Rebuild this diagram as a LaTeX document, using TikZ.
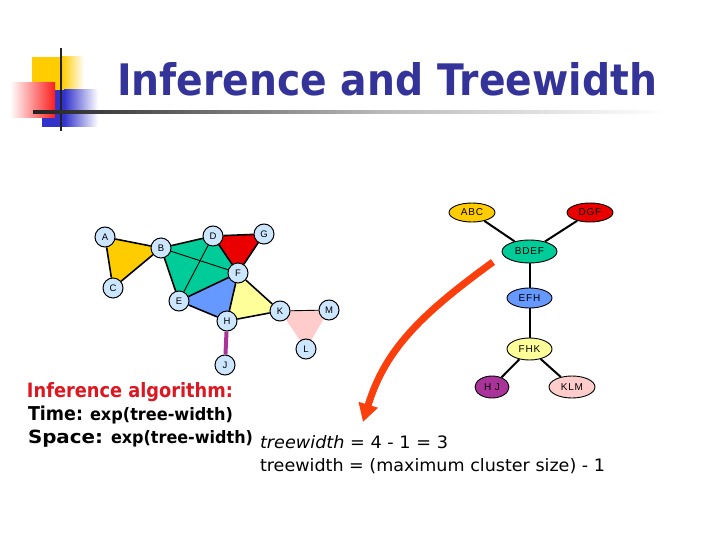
\documentclass[tikz,border=0pt]{standalone}
\usepackage{fontspec}
\setmainfont{DejaVu Sans}
\newfontfamily\lblfont{Liberation Sans}
\newfontfamily\treefont[LetterSpace=8]{Liberation Sans}
\usetikzlibrary{shapes.geometric,arrows.meta}
\definecolor{titleblue}{RGB}{51,51,153}
\definecolor{algred}{RGB}{222,22,32}
\definecolor{nodeblue}{RGB}{204,230,255}
\definecolor{cgold}{RGB}{255,204,0}
\definecolor{cteal}{RGB}{0,204,153}
\definecolor{cred}{RGB}{235,0,0}
\definecolor{cblue}{RGB}{102,153,255}
\definecolor{cyellow}{RGB}{255,255,153}
\definecolor{cpink}{RGB}{255,204,204}
\definecolor{cpurple}{RGB}{170,51,153}
\definecolor{arroworange}{RGB}{250,62,12}
\definecolor{decoyellow}{RGB}{255,204,0}
\definecolor{decoblue}{RGB}{51,51,204}
\definecolor{decored}{RGB}{250,30,30}
\definecolor{decoline}{RGB}{34,34,34}
\begin{document}
\begin{tikzpicture}[x=1pt,y=-1pt,
  gv/.style={circle, draw=black, line width=1pt, fill=nodeblue, minimum size=20pt, inner sep=0pt, font=\lblfont\fontsize{9.5}{10}\selectfont},
  gedge/.style={draw=black, line width=1.6pt},
  gdiag/.style={draw=black, line width=0.9pt},
  tnode/.style={ellipse, draw=black, line width=0.9pt, inner sep=0pt, font=\treefont\fontsize{10}{10}\selectfont},
  tedge/.style={draw=black, line width=2pt},
  txt/.style={anchor=base west, inner sep=0pt, outer sep=0pt}]
\useasboundingbox (0,0) rectangle (720,540);
\fill[white] (0,0) rectangle (720,540);

% title decoration
\fill[decoyellow] (32,57) rectangle (62,100);
\shade[left color=decoyellow, right color=white] (62,57) rectangle (84,100);
\fill[decoblue] (42,90) rectangle (64,127);
\shade[left color=decoblue, right color=white] (64,90) rectangle (98,127);
\shade[left color=white, right color=decored] (10,83) rectangle (55,118);
\draw[line width=2.5pt, decoline] (61,48) -- (61,131);
\shade[left color=decoline, right color=gray!55] (33,110.5) rectangle (380,113.5);
\shade[left color=gray!55, right color=white] (380,110.5) rectangle (667,113.5);

\node[txt, text=titleblue] (title) at (117,96) {\resizebox{540pt}{33pt}{\bfseries Inference and Treewidth}};

% graph coordinates
\coordinate (pA) at (105,237);
\coordinate (pB) at (161,248);
\coordinate (pC) at (113,288);
\coordinate (pD) at (213,236);
\coordinate (pG) at (264,234);
\coordinate (pF) at (238,273);
\coordinate (pE) at (179,301);
\coordinate (pH) at (227,321);
\coordinate (pK) at (280,311);
\coordinate (pM) at (329,310);
\coordinate (pL) at (306,349);
\coordinate (pJ) at (225,365);

\fill[cgold] (pA) -- (pB) -- (pC) -- cycle;
\fill[cteal] (pB) -- (pD) -- (pF) -- (pE) -- cycle;
\fill[cred] (pD) -- (pG) -- (pF) -- cycle;
\fill[cblue] (pE) -- (pF) -- (pH) -- cycle;
\fill[cyellow] (pF) -- (pK) -- (pH) -- cycle;
\fill[cpink] (pK) -- (pM) -- (pL) -- cycle;

\node[gv] (A) at (pA) {A};
\node[gv] (B) at (pB) {B};
\node[gv] (C) at (pC) {C};
\node[gv] (D) at (pD) {D};
\node[gv] (G) at (pG) {G};
\node[gv] (F) at (pF) {F};
\node[gv] (E) at (pE) {E};
\node[gv] (H) at (pH) {H};
\node[gv] (K) at (pK) {K};
\node[gv] (M) at (pM) {M};
\node[gv] (L) at (pL) {L};
\node[gv] (J) at (pJ) {J};

\draw[gedge] (A) -- (B);
\draw[gedge] (A) -- (C);
\draw[gedge] (B) -- (C);
\draw[gedge] (B) -- (D);
\draw[gedge] (D) -- (F);
\draw[gedge] (F) -- (E);
\draw[gedge] (E) -- (B);
\draw[gdiag] (B) -- (F);
\draw[gdiag] (D) -- (E);
\draw[gedge] (D) -- (G);
\draw[gedge] (G) -- (F);
\draw[gedge] (E) -- (H);
\draw[gedge] (H) -- (F);
\draw[gedge] (F) -- (K);
\draw[gedge] (K) -- (H);
\draw[gdiag] (K) -- (M);
\draw[cpurple, line width=4pt] (H) -- (J);

% tree decomposition
\node[tnode, fill=cgold, minimum width=46pt, minimum height=19pt] (ABC) at (472,212.5) {ABC};
\node[tnode, fill=cred, minimum width=46pt, minimum height=19pt] (DGF) at (590,212.5) {DGF};
\node[tnode, fill=cteal, minimum width=55pt, minimum height=23pt] (BDEF) at (529.5,251.5) {BDEF};
\node[tnode, fill=cblue, minimum width=45pt, minimum height=20pt] (EFH) at (529.5,298) {EFH};
\node[tnode, fill=cyellow, minimum width=45pt, minimum height=22pt] (FHK) at (529.5,349) {FHK};
\node[tnode, fill=cpurple, minimum width=34pt, minimum height=22pt] (HJ) at (492,387) {H J};
\node[tnode, fill=cpink, minimum width=46pt, minimum height=22pt] (KLM) at (572,387) {KLM};

\draw[tedge] (ABC) -- (BDEF);
\draw[tedge] (DGF) -- (BDEF);
\draw[tedge] (BDEF) -- (EFH);
\draw[tedge] (EFH) -- (FHK);
\draw[tedge] (FHK) -- (HJ);
\draw[tedge] (FHK) -- (KLM);

% arrow
\coordinate (arrS) at (493,262);
\coordinate (arrE) at (363,422);
\draw[arroworange, line width=7pt, -{Triangle[length=18pt,width=19pt]}] (arrS) .. controls (420,315) and (385,350) .. (arrE);

% texts
\node[txt, text=algred] (alg) at (27,397) {\resizebox{206pt}{15pt}{\bfseries Inference algorithm:}};
\node[txt] (time) at (28,420) {\resizebox{55pt}{14.5pt}{\bfseries Time:}};
\node[txt] (timeexp) at (90,420) {\resizebox{143pt}{13pt}{\bfseries exp(tree-width)}};
\node[txt] (space) at (28,443) {\resizebox{75pt}{13.5pt}{\bfseries Space:}};
\node[txt] (spaceexp) at (111,443) {\resizebox{142pt}{13pt}{\bfseries exp(tree-width)}};
\node[txt] (tw1) at (260,448) {\resizebox{188pt}{13pt}{\itshape treewidth\upshape{} = 4 - 1 = 3}};
\node[txt] (tw2) at (260,471) {\resizebox{345pt}{13pt}{treewidth = (maximum cluster size) - 1}};
\end{tikzpicture}
\end{document}
